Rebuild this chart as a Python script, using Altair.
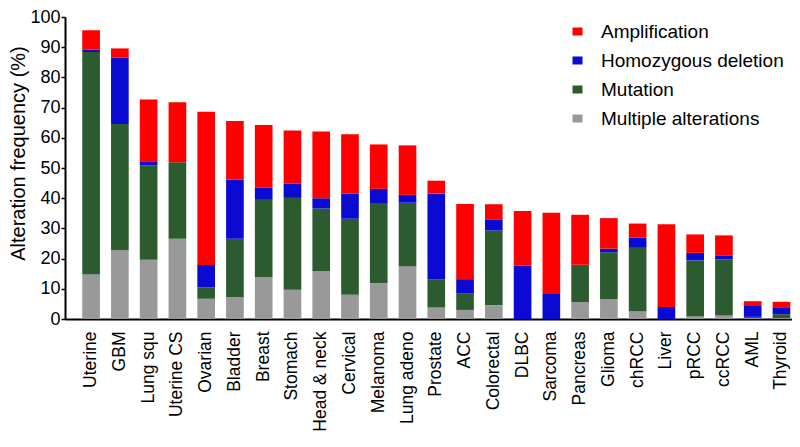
import altair as alt
import pandas as pd

cancers = ["Uterine", "GBM", "Lung squ", "Uterine CS", "Ovarian", "Bladder", "Breast",
           "Stomach", "Head & neck", "Cervical", "Melanoma", "Lung adeno", "Prostate",
           "ACC", "Colorectal", "DLBC", "Sarcoma", "Pancreas", "Glioma", "chRCC",
           "Liver", "pRCC", "ccRCC", "AML", "Thyroid"]

multiple_alterations = [14.7, 22.8, 19.6, 26.6, 6.7, 7.3, 13.8, 9.7, 15.8, 8.0, 11.9, 17.4, 3.8,
                        3.0, 4.6, 0.0, 0.0, 5.6, 6.6, 2.6, 0.0, 0.8, 1.2, 0.3, 0.3]
mutation = [73.7, 41.8, 31.3, 25.3, 3.8, 19.3, 25.9, 30.4, 20.8, 25.2, 26.5, 21.1, 9.3,
            5.4, 24.7, 0.0, 0.0, 12.4, 15.5, 21.2, 0.0, 18.6, 18.6, 0.4, 1.3]
homozygous_deletion = [0.8, 21.9, 1.3, 0.0, 7.4, 19.6, 3.8, 4.7, 3.4, 8.4, 4.7, 2.6, 28.4,
                       4.8, 3.7, 17.6, 8.3, 0.0, 1.2, 3.2, 4.0, 2.5, 1.1, 3.6, 2.3]
amplification = [6.4, 3.1, 20.5, 19.9, 50.7, 19.4, 20.7, 17.6, 22.1, 19.6, 14.7, 16.4, 4.3,
                 24.9, 5.0, 18.2, 26.9, 16.5, 10.1, 4.6, 27.4, 6.1, 6.8, 1.6, 1.8]

legend_names = ["Amplification", "Homozygous deletion", "Mutation", "Multiple alterations"]
legend_colors = ["#FF0000", "#0A0AD2", "#2C5B2F", "#999999"]
y_ticks = [0, 10, 20, 30, 40, 50, 60, 70, 80, 90, 100]

series = [("Multiple alterations", multiple_alterations),
          ("Mutation", mutation),
          ("Homozygous deletion", homozygous_deletion),
          ("Amplification", amplification)]

rows = []
for i, c in enumerate(cancers):
    for k, (name, vals) in enumerate(series):
        rows.append({"cancer": c, "type": name, "value": vals[i], "stackorder": k})
df = pd.DataFrame(rows)

FONT = "Liberation Sans"

chart = alt.Chart(df).mark_bar().encode(
    x=alt.X("cancer:N", sort=cancers,
            scale=alt.Scale(paddingInner=0.386, paddingOuter=0.33, align=0.91),
            axis=alt.Axis(title=None, labelAngle=-90, labelFontSize=17.5, labelFont=FONT,
                          labelColor="black", ticks=False, tickSize=0, labelPadding=12,
                          labelLimit=0,
                          domainColor="black", domainWidth=2, grid=False)),
    y=alt.Y("value:Q", stack="zero",
            scale=alt.Scale(domain=[0, 100], nice=False, zero=True),
            axis=alt.Axis(title="Alteration frequency (%)", values=y_ticks,
                          labelFontSize=18, labelFont=FONT, labelColor="black",
                          tickSize=4, tickWidth=1.5, tickColor="black", labelPadding=1,
                          domainColor="black", domainWidth=2, grid=False,
                          titleFont=FONT, titleFontSize=20, titleFontWeight="normal",
                          titleColor="black", titlePadding=1, titleY=136)),
    color=alt.Color("type:N",
                    scale=alt.Scale(domain=legend_names, range=legend_colors),
                    legend=alt.Legend(title=None, orient="none", legendX=503, legendY=5,
                                      labelFont=FONT, labelFontSize=19, labelColor="black",
                                      labelLimit=0,
                                      symbolType="M-1,-0.8H1V0.8H-1Z", symbolSize=100,
                                      symbolStrokeWidth=0, labelOffset=14, rowPadding=9,
                                      padding=0)),
    order=alt.Order("stackorder:Q", sort="ascending"),
).properties(
    width=727, height=302,
    autosize=alt.AutoSizeParams(type="none"),
    padding={"left": 57, "top": 9, "right": 0, "bottom": 114},
).configure_view(strokeWidth=0)

chart.save("out.html", embed_options={"renderer": "svg", "actions": False})
